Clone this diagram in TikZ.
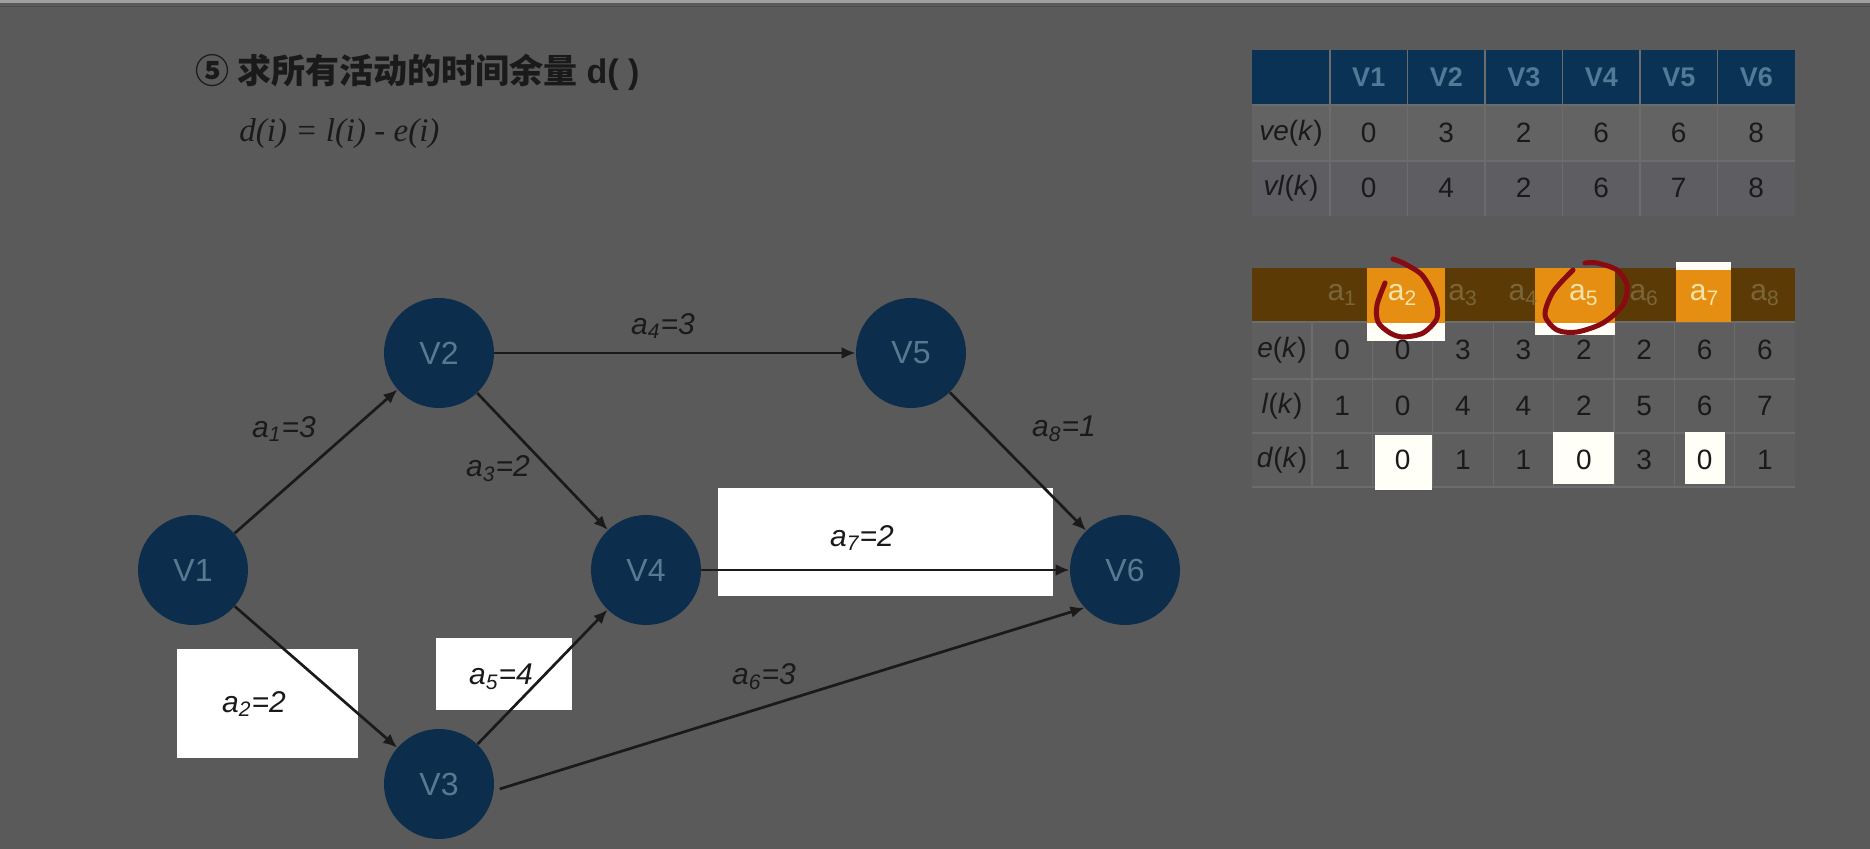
\documentclass[tikz,border=0pt]{standalone}
\usepackage{fontspec}
\setmainfont{Liberation Sans}
\newfontfamily\cjkfont{Noto Sans CJK SC}
\newfontfamily\timesfont{Liberation Serif}
\usepackage{tikz}
\usetikzlibrary{positioning, arrows.meta, calc}
\definecolor{slidegrey}{RGB}{90, 90, 90}
\definecolor{vnavy}{RGB}{12, 46, 76}
\definecolor{vtext}{RGB}{88, 122, 144}
\definecolor{hdrblue}{RGB}{10, 50, 85}
\definecolor{hdrtext}{RGB}{80, 122, 150}
\definecolor{rowgrey}{RGB}{99, 99, 99}
\definecolor{rowgreyb}{RGB}{93, 93, 98}
\definecolor{cellline}{RGB}{108, 108, 108}
\definecolor{actbrown}{RGB}{92, 58, 6}
\definecolor{actorange}{RGB}{229, 142, 18}
\definecolor{actolive}{RGB}{122, 102, 56}
\definecolor{actcream}{RGB}{245, 228, 170}
\definecolor{inkred}{RGB}{138, 10, 18}
\definecolor{inkblack}{RGB}{26, 26, 26}

\begin{document}
\begin{tikzpicture}[x=0.5pt, y=-0.5pt,
    every node/.style={align=center, inner sep=0pt},
    vertex/.style={circle, fill=vnavy, minimum size=55pt, text=vtext,
      font=\fontsize{16}{18}\selectfont},
    arc/.style={-{Latex[length=7pt, width=6pt]}, line width=1.35pt, draw=inkblack},
    arclabel/.style={text=inkblack, font=\fontsize{15}{17}\selectfont\itshape},
    cellval/.style={text=inkblack, font=\fontsize{14}{16}\selectfont},
    hdrval/.style={text=hdrtext, font=\fontsize{13.5}{16}\selectfont\bfseries}]
    \useasboundingbox (0,0) rectangle (1870,849);
    \fill[slidegrey] (0,0) rectangle (1870,849);
    \fill[black!38] (0,0) rectangle (1870,3);
    \draw[black!70, line width=0.4pt] (0,6) -- (1870,6);

    % heading and formula
    \node[anchor=west, text=inkblack, font=\fontsize{17}{19}\selectfont\bfseries] (title) at (195,72)
      {{\cjkfont ⑤ 求所有活动的时间余量} d( )};
    \node[anchor=west, text=inkblack, font=\timesfont\itshape\fontsize{16.5}{18}\selectfont] (formula) at (239,134)
      {d(i) = l(i) - e(i)};

    % white marks behind the critical activities
    \fill[white] (177,649) rectangle (358,758);
    \fill[white] (436,638) rectangle (572,710);
    \fill[white] (718,488) rectangle (1053,596);

    % AOE network
    \node[vertex] (v1) at (193,570) {V1};
    \node[vertex] (v2) at (439,353) {V2};
    \node[vertex] (v3) at (439,784) {V3};
    \node[vertex] (v4) at (646,570) {V4};
    \node[vertex] (v5) at (911,353) {V5};
    \node[vertex] (v6) at (1125,570) {V6};

    \draw[arc] (v1) -- (v2);
    \draw[arc] (v1) -- (v3);
    \draw[arc] (v2) -- (v4);
    \draw[arc] (v2) -- (v5);
    \draw[arc] (v3) -- (v4);
    \draw[arc, shorten <=3pt] (v3.-7) -- (v6.-137);
    \draw[arc] (v4) -- (v6);
    \draw[arc] (v5) -- (v6);

    \node[arclabel] (la1) at (284,429) {a\textsubscript{1}=3};
    \node[arclabel] (la2) at (254,704) {a\textsubscript{2}=2};
    \node[arclabel] (la3) at (498,469) {a\textsubscript{3}=2};
    \node[arclabel] (la4) at (663,326) {a\textsubscript{4}=3};
    \node[arclabel] (la5) at (501,677) {a\textsubscript{5}=4};
    \node[arclabel] (la6) at (764,677) {a\textsubscript{6}=3};
    \node[arclabel] (la7) at (862,538) {a\textsubscript{7}=2};
    \node[arclabel] (la8) at (1064,429) {a\textsubscript{8}=1};

    % event table
    \fill[hdrblue]  (1252,50)  rectangle (1795,105);
    \fill[rowgrey]  (1252,105) rectangle (1795,161);
    \fill[rowgreyb] (1252,161) rectangle (1795,216);
    \draw[cellline, line width=0.6pt] (1252,105) -- (1795,105) (1252,161) -- (1795,161);
    \foreach \i in {0,...,5}
      \draw[cellline, line width=0.6pt] ({1330+77.5*\i},50) -- ({1330+77.5*\i},216);
    \node[cellval] (vek) at (1291,133) {\textit{ve}(\textit{k})};
    \node[cellval] (vlk) at (1291,188) {\textit{vl}(\textit{k})};
    \foreach \v [count=\i] in {V1,V2,V3,V4,V5,V6}
      \node[hdrval] (vh\i) at ({1330+77.5*(\i-0.5)},77) {\v};
    \foreach \v [count=\i] in {0,3,2,6,6,8}
      \node[cellval] (ve\i) at ({1330+77.5*(\i-0.5)},133) {\v};
    \foreach \v [count=\i] in {0,4,2,6,7,8}
      \node[cellval] (vl\i) at ({1330+77.5*(\i-0.5)},188) {\v};

    % activity table
    \fill[actbrown] (1252,268) rectangle (1795,322);
    \fill[rowgrey!95!black] (1252,322) rectangle (1795,487);
    \draw[cellline, line width=0.6pt] (1252,322) -- (1795,322) (1252,379) -- (1795,379)
      (1252,433) -- (1795,433) (1252,487) -- (1795,487);
    \foreach \i in {0,...,7}
      \draw[cellline, line width=0.6pt] ({1312+60.4*\i},322) -- ({1312+60.4*\i},487);
    \fill[actorange] (1367,268) rectangle (1445,323);
    \fill[white!97!yellow] (1367,323) rectangle (1445,341);
    \fill[actorange] (1535,268) rectangle (1615,323);
    \fill[white!97!yellow] (1535,323) rectangle (1615,335);
    \fill[white!97!yellow] (1676,262) rectangle (1731,270);
    \fill[actorange] (1676,270) rectangle (1731,322);
    \fill[white!97!yellow] (1375,435) rectangle (1432,490);
    \fill[white!97!yellow] (1553,432) rectangle (1614,484);
    \fill[white!97!yellow] (1685,432) rectangle (1725,484);

    \node[cellval] (ek) at (1282,350) {\textit{e}(\textit{k})};
    \node[cellval] (lk) at (1282,406) {\textit{l}(\textit{k})};
    \node[cellval] (dk) at (1282,460) {\textit{d}(\textit{k})};
    \foreach \c [count=\i] in {actolive,actcream,actolive,actolive,actcream,actolive,actcream,actolive}
      \node[text=\c, font=\fontsize{15}{17}\selectfont] (ah\i) at ({1312+60.4*(\i-0.5)},295) {a\textsubscript{\i}};
    \foreach \v [count=\i] in {0,0,3,3,2,2,6,6}
      \node[cellval] (e\i) at ({1312+60.4*(\i-0.5)},350) {\v};
    \foreach \v [count=\i] in {1,0,4,4,2,5,6,7}
      \node[cellval] (l\i) at ({1312+60.4*(\i-0.5)},406) {\v};
    \foreach \v [count=\i] in {1,0,1,1,0,3,0,1}
      \node[cellval] (d\i) at ({1312+60.4*(\i-0.5)},460) {\v};

    % hand-drawn rings round a2 and a5
    \draw[inkred, line width=2.5pt, line cap=round] plot[smooth] coordinates
      {(1385,283) (1377,305) (1378,322) (1390,333) (1403,337) (1423,333) (1437,318)
       (1435,298) (1422,275) (1403,263) (1393,259)};
    \draw[inkred, line width=2.5pt, line cap=round] plot[smooth] coordinates
      {(1573,270) (1553,292) (1545,315) (1557,330) (1577,332) (1603,323) (1623,305)
       (1627,285) (1617,270) (1597,263) (1585,263)};
  \end{tikzpicture}
\end{document}
